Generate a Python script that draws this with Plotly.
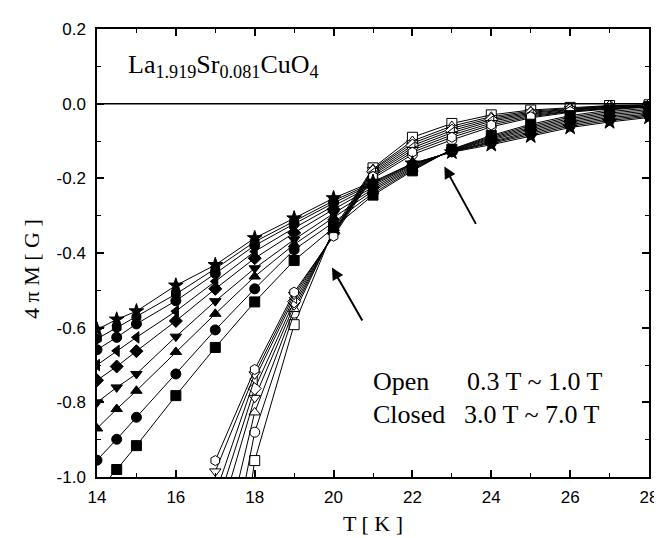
import plotly.graph_objects as go

# Temperatures
T_closed = [14, 14.5, 15, 16, 17, 18, 19, 20, 21, 22, 23, 24, 25, 26, 27, 28]
T_open = [17, 18, 19, 20, 21, 22, 23, 24, 25, 26, 27, 28]

# Closed symbols: 3.0 T ... 7.0 T
closed_3_0 = [-1.04, -0.980, -0.916, -0.782, -0.653, -0.531, -0.420, -0.332, -0.245, -0.180, -0.122, -0.085, -0.055, -0.032, -0.017, -0.008]
closed_3_5 = [-0.955, -0.899, -0.840, -0.724, -0.606, -0.496, -0.391, -0.318, -0.240, -0.177, -0.123, -0.088, -0.059, -0.036, -0.021, -0.012]
closed_4_0 = [-0.870, -0.818, -0.769, -0.665, -0.563, -0.463, -0.377, -0.305, -0.234, -0.174, -0.124, -0.091, -0.063, -0.040, -0.025, -0.016]
closed_4_5 = [-0.800, -0.760, -0.724, -0.624, -0.529, -0.441, -0.364, -0.294, -0.229, -0.171, -0.125, -0.094, -0.067, -0.044, -0.029, -0.020]
closed_5_0 = [-0.741, -0.704, -0.663, -0.582, -0.496, -0.414, -0.346, -0.283, -0.224, -0.168, -0.126, -0.097, -0.071, -0.048, -0.033, -0.024]
closed_5_5 = [-0.700, -0.662, -0.626, -0.556, -0.476, -0.396, -0.333, -0.274, -0.219, -0.165, -0.127, -0.100, -0.075, -0.052, -0.037, -0.028]
closed_6_0 = [-0.659, -0.626, -0.590, -0.528, -0.455, -0.380, -0.322, -0.266, -0.215, -0.163, -0.128, -0.103, -0.079, -0.056, -0.041, -0.031]
closed_6_5 = [-0.630, -0.600, -0.572, -0.510, -0.442, -0.370, -0.315, -0.260, -0.212, -0.161, -0.129, -0.106, -0.083, -0.060, -0.045, -0.034]
closed_7_0 = [-0.605, -0.578, -0.556, -0.487, -0.432, -0.360, -0.307, -0.253, -0.209, -0.160, -0.130, -0.110, -0.087, -0.064, -0.049, -0.037]

# Open symbols: 0.3 T ... 1.0 T
open_0_3 = [-1.69, -0.956, -0.592, -0.337, -0.172, -0.090, -0.053, -0.030, -0.017, -0.010, -0.005, -0.003]
open_0_4 = [-1.425, -0.880, -0.561, -0.340, -0.200, -0.136, -0.097, -0.062, -0.038, -0.023, -0.014, -0.009]
open_0_5 = [-1.27, -0.827, -0.550, -0.343, -0.175, -0.100, -0.060, -0.035, -0.020, -0.012, -0.006, -0.004]
open_0_6 = [-1.148, -0.788, -0.540, -0.345, -0.178, -0.106, -0.066, -0.039, -0.023, -0.014, -0.007, -0.004]
open_0_7 = [-1.09, -0.763, -0.530, -0.347, -0.182, -0.112, -0.072, -0.043, -0.026, -0.016, -0.009, -0.005]
open_0_8 = [-1.046, -0.738, -0.520, -0.350, -0.186, -0.118, -0.078, -0.047, -0.029, -0.018, -0.010, -0.006]
open_0_9 = [-0.985, -0.725, -0.512, -0.352, -0.190, -0.124, -0.084, -0.052, -0.032, -0.020, -0.012, -0.007]
open_1_0 = [-0.956, -0.712, -0.505, -0.355, -0.195, -0.130, -0.090, -0.057, -0.035, -0.021, -0.013, -0.008]

closed_series = [closed_3_0, closed_3_5, closed_4_0, closed_4_5, closed_5_0,
                 closed_5_5, closed_6_0, closed_6_5, closed_7_0]
closed_names = ["3.0 T", "3.5 T", "4.0 T", "4.5 T", "5.0 T", "5.5 T", "6.0 T", "6.5 T", "7.0 T"]
closed_symbols = ["square", "circle", "triangle-up", "triangle-down", "diamond",
                  "triangle-left", "circle", "hexagon", "star"]

open_series = [open_0_3, open_0_4, open_0_5, open_0_6, open_0_7, open_0_8, open_0_9, open_1_0]
open_names = ["0.3 T", "0.4 T", "0.5 T", "0.6 T", "0.7 T", "0.8 T", "0.9 T", "1.0 T"]
open_symbols = ["square", "circle", "triangle-up", "triangle-down", "diamond",
                "triangle-left", "triangle-down", "hexagon"]

x_ticks = [14, 16, 18, 20, 22, 24, 26, 28]
y_ticks = [0.2, 0.0, -0.2, -0.4, -0.6, -0.8, -1.0]
y_tick_text = ["0.2", "0.0", "-0.2", "-0.4", "-0.6", "-0.8", "-1.0"]

fig = go.Figure()

for vals, name, sym in zip(open_series, open_names, open_symbols):
    fig.add_trace(go.Scatter(
        x=T_open, y=vals, name=name, mode="lines+markers",
        line=dict(color="black", width=1),
        marker=dict(symbol=sym, size=10, color="white", line=dict(color="black", width=1)),
    ))

for vals, name, sym in zip(closed_series, closed_names, closed_symbols):
    fig.add_trace(go.Scatter(
        x=T_closed, y=vals, name=name, mode="lines+markers",
        line=dict(color="black", width=1),
        marker=dict(symbol=sym, size=11 if sym == "star" else 10, color="black",
                    line=dict(color="black", width=1)),
    ))

fig.add_shape(type="line", xref="paper", x0=0, x1=1, yref="y", y0=0, y1=0,
              line=dict(color="black", width=1.5))

serif = "Liberation Serif, Times New Roman, serif"
sans = "Liberation Sans, Arial, sans-serif"

annotations = [
    dict(text="La<sub>1.919</sub>Sr<sub>0.081</sub>CuO<sub>4</sub>",
         xref="paper", yref="paper", x=0.052, y=0.918, xanchor="left", yanchor="middle",
         showarrow=False, font=dict(family=serif, size=26, color="black")),
    dict(text="Open", xref="paper", yref="paper", x=0.4955, y=0.213,
         xanchor="left", yanchor="middle", showarrow=False,
         font=dict(family=serif, size=26, color="black")),
    dict(text="0.3 T ~ 1.0 T", xref="paper", yref="paper", x=0.667, y=0.213,
         xanchor="left", yanchor="middle", showarrow=False,
         font=dict(family=serif, size=26, color="black")),
    dict(text="Closed", xref="paper", yref="paper", x=0.4955, y=0.1386,
         xanchor="left", yanchor="middle", showarrow=False,
         font=dict(family=serif, size=26, color="black")),
    dict(text="3.0 T ~ 7.0 T", xref="paper", yref="paper", x=0.662, y=0.1386,
         xanchor="left", yanchor="middle", showarrow=False,
         font=dict(family=serif, size=26, color="black")),
    # arrows
    dict(x=22.81, y=-0.168, ax=23.63, ay=-0.326, xref="x", yref="y", axref="x", ayref="y",
         text="", showarrow=True, arrowhead=2, arrowsize=1.2, arrowwidth=2, arrowcolor="black"),
    dict(x=19.96, y=-0.439, ax=20.75, ay=-0.585, xref="x", yref="y", axref="x", ayref="y",
         text="", showarrow=True, arrowhead=2, arrowsize=1.2, arrowwidth=2, arrowcolor="black"),
    # axis titles
    dict(text="T [ K ]", xref="paper", yref="paper", x=0.5, y=-0.104,
         xanchor="center", yanchor="middle", showarrow=False,
         font=dict(family=serif, size=22, color="black")),
    dict(text="4 π M [ G ]", xref="paper", yref="paper", x=-0.1186, y=0.4634,
         xanchor="center", yanchor="middle", showarrow=False, textangle=-90,
         font=dict(family=serif, size=22, color="black")),
]

axis_common = dict(
    showline=True, linecolor="black", linewidth=1.5, mirror="ticks",
    ticks="inside", ticklen=7, tickwidth=1.5, tickcolor="black",
    showgrid=False, zeroline=False,
    tickfont=dict(family=sans, size=17, color="black"),
)

fig.update_layout(
    width=662, height=538,
    margin=dict(l=89, r=14, t=18, b=69),
    paper_bgcolor="white", plot_bgcolor="white",
    showlegend=False,
    xaxis=dict(range=[14, 28], tickvals=x_ticks, ticktext=[str(v) for v in x_ticks],
               minor=dict(dtick=1, ticks="inside", ticklen=4, tickcolor="black", tickwidth=1.2),
               ticklabelstandoff=4,
               **axis_common),
    yaxis=dict(range=[-1.0, 0.2], tickvals=y_ticks, ticktext=y_tick_text,
               minor=dict(dtick=0.1, tick0=0, ticks="inside", ticklen=4, tickcolor="black", tickwidth=1.2),
               ticklabelstandoff=6,
               **axis_common),
    annotations=annotations,
)

fig.write_html("out.html")
